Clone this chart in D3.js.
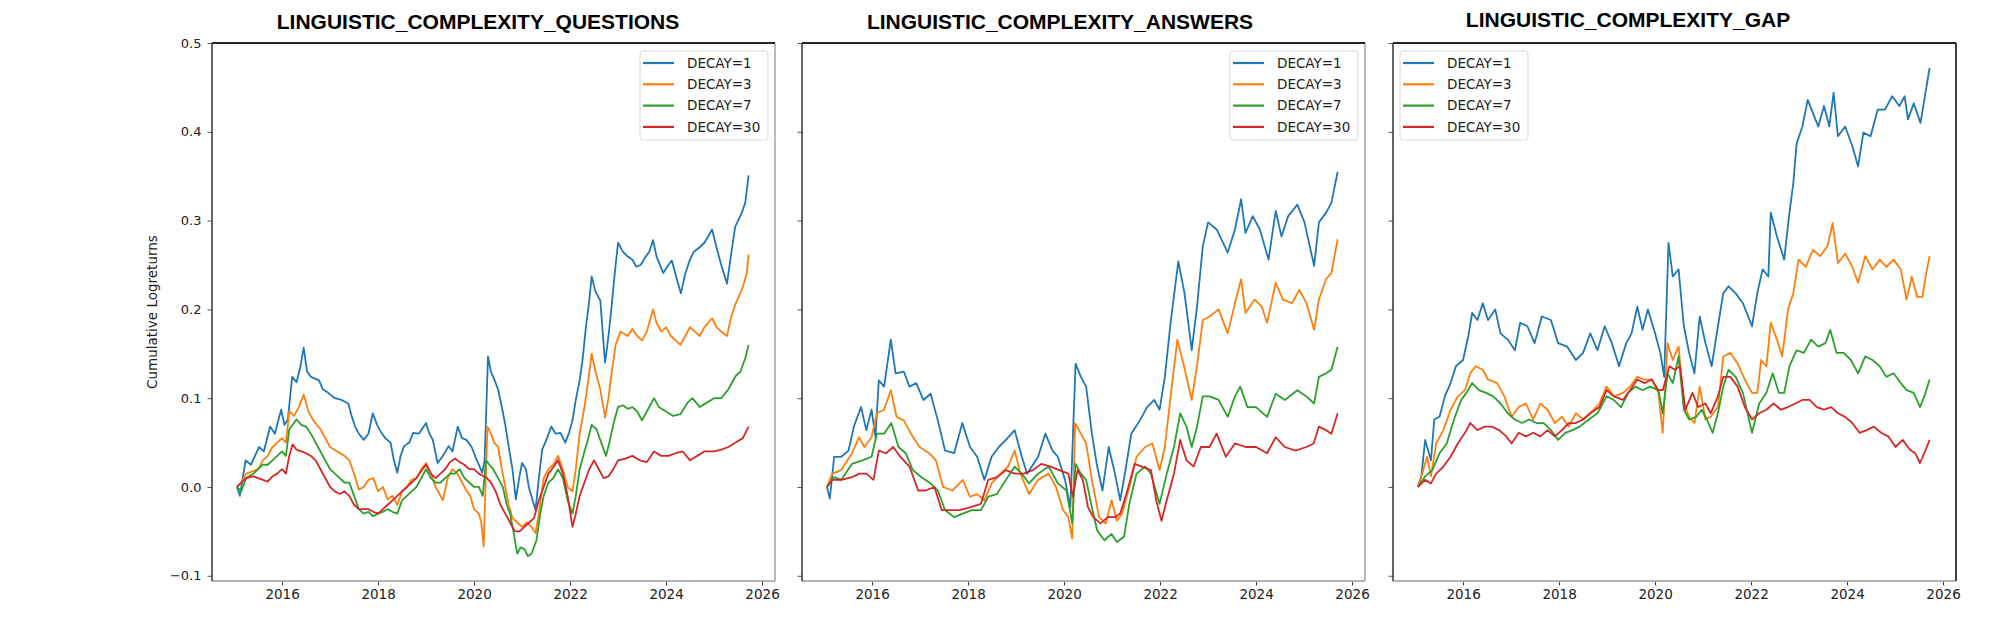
<!DOCTYPE html>
<html>
<head>
<meta charset="utf-8">
<script src="https://cdn.jsdelivr.net/npm/d3@7"></script>
<style>
  body { margin: 0; background: #fff; }
  text { font-family: "DejaVu Sans", sans-serif; }
</style>
</head>
<body>
<div id="chart"></div>
<script>
var width = 2016,
  height = 626;

var titles = [
  "LINGUISTIC_COMPLEXITY_QUESTIONS",
  "LINGUISTIC_COMPLEXITY_ANSWERS",
  "LINGUISTIC_COMPLEXITY_GAP"
];
var decayLabels = ["DECAY=1", "DECAY=3", "DECAY=7", "DECAY=30"];
var colors = ["#1f77b4", "#ff7f0e", "#2ca02c", "#d62728"];
var xTickYears = [2016, 2018, 2020, 2022, 2024, 2026];
var yTickValues = [-0.1, 0, 0.1, 0.2, 0.3, 0.4, 0.5];

// [year, cumulative logreturn]
var questionsDecay1 = [[2015.06,0],[2015.12,-0.01],[2015.24,0.03],[2015.35,0.025],[2015.52,0.045],[2015.62,0.04],[2015.75,0.068],[2015.85,0.06],[2015.98,0.087],[2016.05,0.07],[2016.12,0.076],[2016.21,0.124],[2016.3,0.118],[2016.38,0.135],[2016.45,0.157],[2016.52,0.13],[2016.6,0.124],[2016.77,0.12],[2016.85,0.11],[2016.96,0.106],[2017.1,0.1],[2017.24,0.098],[2017.38,0.094],[2017.45,0.08],[2017.52,0.068],[2017.6,0.06],[2017.7,0.053],[2017.8,0.06],[2017.89,0.083],[2017.98,0.07],[2018.07,0.061],[2018.15,0.055],[2018.26,0.05],[2018.33,0.03],[2018.4,0.016],[2018.47,0.035],[2018.54,0.046],[2018.65,0.05],[2018.73,0.061],[2018.85,0.06],[2019.0,0.072],[2019.07,0.06],[2019.14,0.053],[2019.24,0.027],[2019.35,0.035],[2019.47,0.046],[2019.55,0.04],[2019.66,0.068],[2019.75,0.055],[2019.84,0.053],[2019.95,0.045],[2020.03,0.034],[2020.17,0.016],[2020.22,0.03],[2020.29,0.147],[2020.35,0.13],[2020.4,0.124],[2020.5,0.11],[2020.59,0.087],[2020.65,0.07],[2020.72,0.046],[2020.8,0.02],[2020.87,-0.014],[2020.94,0.01],[2021.0,0.027],[2021.08,0.02],[2021.14,0.0],[2021.22,-0.015],[2021.28,-0.026],[2021.35,0.01],[2021.42,0.042],[2021.52,0.055],[2021.61,0.068],[2021.7,0.06],[2021.8,0.061],[2021.9,0.05],[2021.98,0.061],[2022.05,0.075],[2022.12,0.098],[2022.2,0.12],[2022.26,0.143],[2022.33,0.18],[2022.4,0.21],[2022.45,0.237],[2022.53,0.22],[2022.63,0.21],[2022.7,0.16],[2022.73,0.14],[2022.8,0.17],[2022.86,0.2],[2022.93,0.24],[2023.0,0.275],[2023.1,0.265],[2023.19,0.26],[2023.3,0.256],[2023.38,0.248],[2023.47,0.25],[2023.56,0.258],[2023.65,0.265],[2023.73,0.278],[2023.8,0.26],[2023.94,0.241],[2024.05,0.25],[2024.12,0.255],[2024.22,0.235],[2024.31,0.218],[2024.4,0.24],[2024.49,0.255],[2024.58,0.265],[2024.7,0.27],[2024.8,0.275],[2024.96,0.29],[2025.05,0.27],[2025.15,0.25],[2025.27,0.229],[2025.35,0.26],[2025.44,0.293],[2025.5,0.3],[2025.58,0.309],[2025.65,0.32],[2025.72,0.351]];
var questionsDecay3 = [[2015.06,0],[2015.15,0.005],[2015.25,0.015],[2015.4,0.018],[2015.5,0.02],[2015.6,0.03],[2015.7,0.035],[2015.8,0.045],[2015.9,0.05],[2016.0,0.055],[2016.08,0.05],[2016.15,0.085],[2016.25,0.08],[2016.35,0.09],[2016.45,0.104],[2016.55,0.085],[2016.65,0.075],[2016.8,0.065],[2016.9,0.055],[2017.0,0.045],[2017.15,0.04],[2017.3,0.035],[2017.4,0.03],[2017.5,0.015],[2017.6,-0.003],[2017.7,0.0],[2017.8,0.008],[2017.9,0.01],[2018.0,-0.005],[2018.1,0.0],[2018.2,-0.014],[2018.3,-0.01],[2018.4,-0.02],[2018.5,-0.005],[2018.6,0.0],[2018.7,0.008],[2018.8,0.01],[2018.9,0.02],[2019.0,0.027],[2019.1,0.015],[2019.2,0.0],[2019.3,-0.01],[2019.35,-0.015],[2019.45,0.01],[2019.55,0.02],[2019.65,0.015],[2019.75,0.005],[2019.85,-0.005],[2019.92,-0.01],[2020.0,-0.025],[2020.1,-0.03],[2020.15,-0.04],[2020.2,-0.067],[2020.25,0.02],[2020.28,0.068],[2020.35,0.06],[2020.42,0.05],[2020.5,0.045],[2020.58,0.02],[2020.65,0.0],[2020.72,-0.02],[2020.8,-0.035],[2020.9,-0.04],[2021.0,-0.045],[2021.1,-0.04],[2021.2,-0.045],[2021.28,-0.052],[2021.35,-0.03],[2021.45,0.01],[2021.55,0.02],[2021.65,0.025],[2021.75,0.035],[2021.85,0.02],[2021.95,0.0],[2022.05,-0.005],[2022.12,0.02],[2022.2,0.06],[2022.3,0.09],[2022.38,0.12],[2022.45,0.15],[2022.53,0.13],[2022.63,0.11],[2022.73,0.078],[2022.8,0.1],[2022.87,0.13],[2022.95,0.16],[2023.05,0.175],[2023.2,0.17],[2023.3,0.178],[2023.4,0.17],[2023.5,0.165],[2023.6,0.175],[2023.73,0.2],[2023.8,0.185],[2023.9,0.175],[2024.0,0.18],[2024.1,0.17],[2024.2,0.165],[2024.3,0.16],[2024.4,0.17],[2024.5,0.18],[2024.6,0.175],[2024.7,0.17],[2024.8,0.18],[2024.96,0.19],[2025.05,0.18],[2025.15,0.175],[2025.27,0.17],[2025.35,0.19],[2025.44,0.205],[2025.52,0.215],[2025.6,0.225],[2025.68,0.24],[2025.72,0.262]];
var questionsDecay7 = [[2015.06,0],[2015.15,-0.005],[2015.25,0.01],[2015.4,0.015],[2015.5,0.02],[2015.6,0.025],[2015.7,0.025],[2015.8,0.03],[2015.9,0.035],[2016.0,0.04],[2016.08,0.035],[2016.15,0.065],[2016.22,0.07],[2016.3,0.076],[2016.4,0.07],[2016.5,0.068],[2016.6,0.06],[2016.7,0.05],[2016.8,0.04],[2016.9,0.03],[2017.0,0.02],[2017.1,0.015],[2017.2,0.01],[2017.3,0.005],[2017.4,0.005],[2017.5,-0.01],[2017.6,-0.025],[2017.7,-0.03],[2017.8,-0.028],[2017.9,-0.033],[2018.0,-0.03],[2018.1,-0.028],[2018.2,-0.025],[2018.3,-0.028],[2018.4,-0.03],[2018.5,-0.015],[2018.6,-0.01],[2018.7,-0.005],[2018.8,0.0],[2018.9,0.01],[2019.0,0.02],[2019.1,0.01],[2019.2,0.005],[2019.3,0.005],[2019.4,0.01],[2019.5,0.015],[2019.6,0.015],[2019.7,0.02],[2019.8,0.01],[2019.9,0.005],[2020.0,0.0],[2020.1,0.0],[2020.18,-0.01],[2020.25,0.03],[2020.32,0.025],[2020.4,0.02],[2020.5,0.01],[2020.6,0.0],[2020.68,-0.02],[2020.75,-0.03],[2020.82,-0.05],[2020.9,-0.075],[2020.97,-0.068],[2021.05,-0.07],[2021.12,-0.078],[2021.2,-0.075],[2021.3,-0.06],[2021.38,-0.03],[2021.45,-0.01],[2021.55,0.005],[2021.65,0.01],[2021.75,0.02],[2021.85,0.01],[2021.95,-0.015],[2022.05,-0.03],[2022.12,-0.01],[2022.2,0.02],[2022.3,0.04],[2022.38,0.055],[2022.45,0.07],[2022.55,0.065],[2022.65,0.05],[2022.75,0.035],[2022.82,0.05],[2022.9,0.07],[2023.0,0.09],[2023.1,0.092],[2023.2,0.088],[2023.3,0.09],[2023.4,0.085],[2023.5,0.075],[2023.6,0.085],[2023.75,0.1],[2023.85,0.09],[2024.0,0.085],[2024.15,0.08],[2024.3,0.082],[2024.45,0.095],[2024.55,0.1],[2024.7,0.09],[2024.85,0.095],[2025.0,0.1],[2025.15,0.1],[2025.3,0.11],[2025.45,0.125],[2025.55,0.13],[2025.65,0.145],[2025.72,0.16]];
var questionsDecay30 = [[2015.06,0],[2015.15,0.005],[2015.25,0.01],[2015.4,0.012],[2015.5,0.01],[2015.6,0.008],[2015.7,0.006],[2015.8,0.012],[2015.9,0.015],[2016.0,0.02],[2016.08,0.015],[2016.15,0.035],[2016.22,0.048],[2016.3,0.042],[2016.4,0.04],[2016.5,0.038],[2016.6,0.035],[2016.7,0.03],[2016.8,0.02],[2016.9,0.01],[2017.0,0.0],[2017.1,-0.005],[2017.2,-0.008],[2017.3,-0.005],[2017.4,-0.01],[2017.5,-0.02],[2017.6,-0.025],[2017.7,-0.025],[2017.8,-0.025],[2017.9,-0.028],[2018.0,-0.03],[2018.1,-0.025],[2018.2,-0.02],[2018.3,-0.015],[2018.4,-0.01],[2018.5,-0.005],[2018.6,0.0],[2018.7,0.005],[2018.8,0.01],[2018.9,0.018],[2019.0,0.025],[2019.1,0.015],[2019.2,0.01],[2019.3,0.015],[2019.4,0.02],[2019.5,0.028],[2019.6,0.032],[2019.7,0.028],[2019.8,0.025],[2019.9,0.02],[2020.0,0.02],[2020.1,0.015],[2020.2,0.012],[2020.27,0.01],[2020.35,0.005],[2020.45,-0.005],[2020.55,-0.02],[2020.65,-0.03],[2020.75,-0.04],[2020.85,-0.05],[2020.95,-0.05],[2021.05,-0.045],[2021.15,-0.04],[2021.25,-0.035],[2021.35,-0.015],[2021.45,0.0],[2021.55,0.015],[2021.65,0.022],[2021.75,0.03],[2021.85,0.015],[2021.95,-0.01],[2022.05,-0.045],[2022.12,-0.03],[2022.2,-0.01],[2022.3,0.005],[2022.4,0.02],[2022.5,0.03],[2022.6,0.02],[2022.7,0.01],[2022.8,0.012],[2022.9,0.02],[2023.0,0.03],[2023.15,0.032],[2023.3,0.035],[2023.45,0.03],[2023.6,0.028],[2023.75,0.04],[2023.9,0.035],[2024.05,0.035],[2024.2,0.038],[2024.35,0.04],[2024.5,0.03],[2024.65,0.035],[2024.8,0.04],[2025.0,0.04],[2025.15,0.042],[2025.3,0.045],[2025.45,0.05],[2025.6,0.055],[2025.72,0.068]];

var answersDecay1 = [[2015.06,0],[2015.12,-0.013],[2015.21,0.034],[2015.36,0.034],[2015.51,0.041],[2015.62,0.068],[2015.77,0.09],[2015.88,0.064],[2015.99,0.087],[2016.07,0.056],[2016.14,0.12],[2016.25,0.113],[2016.39,0.166],[2016.49,0.128],[2016.66,0.13],[2016.78,0.113],[2016.92,0.117],[2017.07,0.098],[2017.22,0.105],[2017.37,0.075],[2017.52,0.041],[2017.71,0.038],[2017.88,0.072],[2018.04,0.045],[2018.19,0.034],[2018.34,0.008],[2018.49,0.034],[2018.64,0.045],[2018.79,0.053],[2018.97,0.064],[2019.12,0.034],[2019.23,0.015],[2019.46,0.034],[2019.61,0.06],[2019.76,0.041],[2019.87,0.034],[2020.02,0.008],[2020.13,-0.023],[2020.24,0.139],[2020.35,0.124],[2020.46,0.113],[2020.58,0.06],[2020.69,0.023],[2020.8,-0.004],[2020.93,0.045],[2021.06,0.015],[2021.17,-0.015],[2021.28,0.019],[2021.4,0.06],[2021.58,0.075],[2021.73,0.09],[2021.88,0.098],[2021.99,0.087],[2022.1,0.124],[2022.22,0.185],[2022.38,0.254],[2022.51,0.218],[2022.66,0.154],[2022.77,0.203],[2022.89,0.271],[2023.0,0.298],[2023.18,0.29],[2023.41,0.264],[2023.56,0.29],[2023.69,0.324],[2023.78,0.286],[2023.93,0.305],[2024.08,0.29],[2024.26,0.256],[2024.41,0.311],[2024.53,0.282],[2024.67,0.305],[2024.86,0.318],[2025.01,0.298],[2025.12,0.271],[2025.21,0.249],[2025.31,0.298],[2025.46,0.309],[2025.57,0.32],[2025.7,0.355]];
var answersDecay3 = [[2015.06,0],[2015.17,0.015],[2015.36,0.019],[2015.58,0.038],[2015.73,0.056],[2015.84,0.045],[2015.99,0.056],[2016.1,0.083],[2016.25,0.087],[2016.39,0.109],[2016.51,0.079],[2016.66,0.075],[2016.81,0.06],[2016.99,0.045],[2017.19,0.038],[2017.33,0.03],[2017.48,0.0],[2017.67,-0.004],[2017.89,0.008],[2018.04,-0.011],[2018.19,-0.008],[2018.34,-0.015],[2018.49,0.004],[2018.68,0.015],[2018.83,0.023],[2018.97,0.041],[2019.09,0.015],[2019.27,-0.008],[2019.46,0.008],[2019.68,0.015],[2019.83,0.0],[2019.98,-0.026],[2020.09,-0.034],[2020.17,-0.058],[2020.23,0.072],[2020.35,0.06],[2020.46,0.049],[2020.58,0.008],[2020.73,-0.034],[2020.87,-0.041],[2020.99,-0.015],[2021.1,-0.038],[2021.21,-0.03],[2021.36,0.0],[2021.51,0.034],[2021.69,0.045],[2021.84,0.049],[2021.99,0.019],[2022.1,0.045],[2022.22,0.102],[2022.36,0.166],[2022.5,0.136],[2022.66,0.098],[2022.77,0.136],[2022.89,0.188],[2023.03,0.192],[2023.22,0.2],[2023.41,0.173],[2023.56,0.207],[2023.69,0.234],[2023.78,0.196],[2023.97,0.211],[2024.12,0.203],[2024.23,0.185],[2024.41,0.23],[2024.56,0.211],[2024.75,0.207],[2024.9,0.222],[2025.05,0.207],[2025.21,0.177],[2025.31,0.211],[2025.46,0.234],[2025.57,0.241],[2025.7,0.279]];
var answersDecay7 = [[2015.06,0],[2015.21,0.011],[2015.36,0.008],[2015.58,0.026],[2015.8,0.03],[2015.99,0.034],[2016.1,0.06],[2016.25,0.06],[2016.4,0.072],[2016.55,0.045],[2016.7,0.038],[2016.85,0.019],[2017.03,0.011],[2017.22,0.004],[2017.37,-0.004],[2017.52,-0.026],[2017.71,-0.034],[2017.89,-0.03],[2018.08,-0.026],[2018.27,-0.026],[2018.42,-0.011],[2018.6,-0.008],[2018.79,0.008],[2018.97,0.023],[2019.12,0.015],[2019.27,0.004],[2019.46,0.015],[2019.68,0.023],[2019.87,0.004],[2020.05,-0.004],[2020.17,-0.041],[2020.24,0.026],[2020.35,0.015],[2020.46,0.008],[2020.58,-0.023],[2020.69,-0.049],[2020.84,-0.06],[2020.99,-0.053],[2021.1,-0.062],[2021.25,-0.056],[2021.36,-0.019],[2021.51,0.015],[2021.69,0.023],[2021.81,0.015],[2021.99,-0.019],[2022.14,0.015],[2022.29,0.045],[2022.42,0.083],[2022.55,0.068],[2022.66,0.045],[2022.77,0.068],[2022.89,0.102],[2023.03,0.102],[2023.22,0.098],[2023.41,0.079],[2023.56,0.102],[2023.67,0.113],[2023.82,0.09],[2024.0,0.09],[2024.23,0.079],[2024.41,0.105],[2024.6,0.098],[2024.86,0.109],[2025.05,0.102],[2025.21,0.094],[2025.31,0.124],[2025.46,0.128],[2025.57,0.132],[2025.7,0.158]];
var answersDecay30 = [[2015.06,0],[2015.17,0.008],[2015.36,0.008],[2015.58,0.011],[2015.73,0.015],[2015.88,0.015],[2016.03,0.008],[2016.14,0.041],[2016.29,0.038],[2016.44,0.045],[2016.59,0.034],[2016.78,0.023],[2016.96,-0.004],[2017.11,-0.004],[2017.3,0.0],[2017.45,-0.026],[2017.6,-0.026],[2017.82,-0.026],[2018.04,-0.023],[2018.27,-0.019],[2018.42,0.008],[2018.6,0.011],[2018.79,0.019],[2018.97,0.015],[2019.16,0.015],[2019.35,0.019],[2019.53,0.026],[2019.72,0.023],[2019.9,0.019],[2020.09,0.015],[2020.18,-0.011],[2020.28,0.019],[2020.39,0.008],[2020.5,-0.023],[2020.61,-0.034],[2020.76,-0.041],[2020.91,-0.034],[2021.06,-0.034],[2021.17,-0.03],[2021.32,-0.004],[2021.47,0.026],[2021.62,0.023],[2021.81,0.019],[2021.92,-0.015],[2022.03,-0.038],[2022.14,-0.015],[2022.29,0.015],[2022.42,0.053],[2022.55,0.03],[2022.7,0.023],[2022.85,0.045],[2023.03,0.045],[2023.18,0.06],[2023.37,0.034],[2023.56,0.049],[2023.78,0.045],[2024.0,0.045],[2024.23,0.038],[2024.41,0.056],[2024.6,0.045],[2024.82,0.041],[2025.05,0.045],[2025.2,0.049],[2025.31,0.068],[2025.46,0.064],[2025.57,0.06],[2025.7,0.083]];

var gapDecay1 = [[2015.06,0],[2015.13,0.012],[2015.21,0.053],[2015.33,0.03],[2015.4,0.076],[2015.51,0.079],[2015.62,0.102],[2015.74,0.117],[2015.85,0.136],[2016.0,0.143],[2016.11,0.17],[2016.19,0.196],[2016.3,0.188],[2016.41,0.207],[2016.52,0.188],[2016.67,0.2],[2016.78,0.173],[2016.93,0.166],[2017.08,0.154],[2017.19,0.185],[2017.34,0.181],[2017.49,0.162],[2017.64,0.192],[2017.83,0.188],[2017.98,0.162],[2018.17,0.158],[2018.35,0.143],[2018.5,0.151],[2018.65,0.173],[2018.8,0.154],[2018.95,0.181],[2019.1,0.162],[2019.25,0.136],[2019.4,0.162],[2019.51,0.173],[2019.63,0.203],[2019.74,0.177],[2019.85,0.2],[2020.0,0.173],[2020.11,0.151],[2020.19,0.124],[2020.28,0.275],[2020.37,0.237],[2020.49,0.245],[2020.6,0.181],[2020.71,0.151],[2020.82,0.128],[2020.93,0.192],[2021.05,0.162],[2021.18,0.136],[2021.31,0.181],[2021.42,0.218],[2021.53,0.226],[2021.68,0.218],[2021.83,0.207],[2022.02,0.181],[2022.13,0.218],[2022.24,0.245],[2022.36,0.237],[2022.41,0.309],[2022.54,0.282],[2022.69,0.256],[2022.8,0.309],[2022.88,0.342],[2022.95,0.387],[2023.07,0.406],[2023.18,0.436],[2023.29,0.421],[2023.4,0.406],[2023.52,0.429],[2023.63,0.406],[2023.72,0.444],[2023.81,0.395],[2023.96,0.406],[2024.11,0.384],[2024.23,0.361],[2024.34,0.399],[2024.49,0.395],[2024.64,0.425],[2024.79,0.425],[2024.94,0.44],[2025.09,0.429],[2025.2,0.44],[2025.27,0.414],[2025.39,0.432],[2025.53,0.41],[2025.61,0.436],[2025.72,0.472]];
var gapDecay3 = [[2015.06,0],[2015.17,0.019],[2015.25,0.034],[2015.33,0.012],[2015.44,0.049],[2015.59,0.064],[2015.74,0.087],[2015.89,0.102],[2016.04,0.109],[2016.15,0.128],[2016.26,0.136],[2016.41,0.132],[2016.52,0.121],[2016.71,0.117],[2016.86,0.102],[2017.01,0.079],[2017.16,0.09],[2017.31,0.094],[2017.46,0.076],[2017.61,0.094],[2017.76,0.087],[2017.91,0.072],[2018.06,0.079],[2018.2,0.068],[2018.35,0.083],[2018.5,0.076],[2018.65,0.083],[2018.84,0.094],[2018.99,0.113],[2019.14,0.102],[2019.33,0.106],[2019.48,0.113],[2019.63,0.124],[2019.78,0.121],[2019.93,0.121],[2020.07,0.106],[2020.16,0.061],[2020.26,0.162],[2020.37,0.143],[2020.49,0.158],[2020.6,0.094],[2020.71,0.079],[2020.82,0.072],[2020.93,0.113],[2021.05,0.076],[2021.16,0.079],[2021.31,0.09],[2021.42,0.147],[2021.57,0.151],[2021.72,0.139],[2021.87,0.121],[2022.02,0.106],[2022.13,0.106],[2022.21,0.143],[2022.32,0.136],[2022.41,0.185],[2022.54,0.166],[2022.65,0.147],[2022.77,0.2],[2022.88,0.218],[2022.99,0.256],[2023.14,0.248],[2023.29,0.267],[2023.44,0.26],[2023.59,0.271],[2023.7,0.297],[2023.81,0.252],[2023.96,0.263],[2024.11,0.248],[2024.23,0.23],[2024.38,0.26],[2024.53,0.245],[2024.68,0.256],[2024.82,0.248],[2024.97,0.256],[2025.12,0.245],[2025.24,0.211],[2025.35,0.237],[2025.46,0.214],[2025.57,0.214],[2025.65,0.241],[2025.72,0.26]];
var gapDecay7 = [[2015.06,0],[2015.21,0.012],[2015.36,0.019],[2015.51,0.038],[2015.66,0.049],[2015.81,0.076],[2015.96,0.098],[2016.07,0.106],[2016.19,0.117],[2016.33,0.109],[2016.48,0.106],[2016.63,0.102],[2016.78,0.094],[2016.93,0.083],[2017.08,0.076],[2017.23,0.072],[2017.38,0.076],[2017.53,0.072],[2017.68,0.072],[2017.83,0.064],[2017.98,0.053],[2018.13,0.061],[2018.28,0.064],[2018.43,0.068],[2018.62,0.076],[2018.8,0.083],[2018.99,0.102],[2019.14,0.098],[2019.29,0.09],[2019.44,0.106],[2019.59,0.113],[2019.74,0.109],[2019.89,0.113],[2020.07,0.109],[2020.16,0.083],[2020.26,0.128],[2020.37,0.117],[2020.49,0.147],[2020.6,0.087],[2020.71,0.076],[2020.86,0.079],[2020.97,0.087],[2021.08,0.076],[2021.2,0.061],[2021.31,0.083],[2021.42,0.113],[2021.53,0.132],[2021.68,0.124],[2021.83,0.106],[2022.02,0.061],[2022.17,0.094],[2022.32,0.106],[2022.45,0.128],[2022.58,0.106],[2022.69,0.106],[2022.8,0.136],[2022.95,0.154],[2023.1,0.151],[2023.25,0.166],[2023.4,0.158],[2023.55,0.162],[2023.65,0.177],[2023.78,0.151],[2023.93,0.151],[2024.08,0.143],[2024.23,0.128],[2024.38,0.147],[2024.53,0.143],[2024.68,0.136],[2024.82,0.124],[2024.97,0.128],[2025.12,0.117],[2025.24,0.109],[2025.39,0.106],[2025.52,0.09],[2025.61,0.102],[2025.72,0.121]];
var gapDecay30 = [[2015.06,0],[2015.21,0.008],[2015.33,0.004],[2015.44,0.015],[2015.59,0.023],[2015.74,0.034],[2015.89,0.049],[2016.04,0.061],[2016.15,0.072],[2016.3,0.064],[2016.45,0.068],[2016.6,0.068],[2016.75,0.064],[2016.9,0.057],[2017.01,0.049],[2017.16,0.061],[2017.31,0.057],[2017.46,0.061],[2017.61,0.057],[2017.76,0.064],[2017.91,0.057],[2018.06,0.064],[2018.2,0.072],[2018.35,0.072],[2018.5,0.076],[2018.65,0.083],[2018.84,0.09],[2018.99,0.109],[2019.14,0.102],[2019.33,0.098],[2019.48,0.109],[2019.63,0.121],[2019.78,0.117],[2019.93,0.121],[2020.07,0.109],[2020.16,0.109],[2020.3,0.136],[2020.41,0.132],[2020.52,0.136],[2020.63,0.087],[2020.78,0.106],[2020.9,0.09],[2021.05,0.094],[2021.16,0.083],[2021.31,0.102],[2021.42,0.124],[2021.57,0.124],[2021.72,0.113],[2021.87,0.09],[2022.02,0.076],[2022.17,0.083],[2022.32,0.087],[2022.47,0.094],[2022.62,0.087],[2022.77,0.09],[2022.92,0.094],[2023.07,0.098],[2023.22,0.098],[2023.37,0.09],[2023.52,0.087],[2023.67,0.09],[2023.81,0.083],[2023.96,0.079],[2024.11,0.072],[2024.26,0.061],[2024.41,0.064],[2024.56,0.068],[2024.71,0.061],[2024.86,0.057],[2025.01,0.045],[2025.16,0.053],[2025.31,0.042],[2025.42,0.038],[2025.52,0.027],[2025.61,0.038],[2025.72,0.053]];

var panels = [
  { title: titles[0], series: [questionsDecay1, questionsDecay3, questionsDecay7, questionsDecay30], left: 212, titleX: 478, titleY: 29, legendLeft: false, yLabels: true, rightSpine: "#a8a8a8" },
  { title: titles[1], series: [answersDecay1, answersDecay3, answersDecay7, answersDecay30], left: 802, titleX: 1060, titleY: 29, legendLeft: false, yLabels: false, rightSpine: "#a8a8a8" },
  { title: titles[2], series: [gapDecay1, gapDecay3, gapDecay7, gapDecay30], left: 1393, titleX: 1628, titleY: 27, legendLeft: true, yLabels: false, rightSpine: "#111" }
];

var panelWidth = 563,
  plotTop = 43,
  plotBottom = 581;

var svg = d3
  .select("#chart")
  .append("svg")
  .attr("width", width)
  .attr("height", height)
  .style("display", "block");

var y = d3.scaleLinear().domain([-0.1059, 0.5]).range([plotBottom, plotTop]);

panels.forEach(function(p, i) {
  var x = d3
    .scaleLinear()
    .domain([2014.54, 2026.27])
    .range([p.left, p.left + panelWidth]);
  var g = svg.append("g").attr("class", "panel-" + i);

  var line = d3
    .line()
    .x(d => x(d[0]))
    .y(d => y(d[1]));

  g.selectAll("path.series")
    .data(p.series)
    .enter()
    .append("path")
    .attr("class", "series")
    .attr("d", line)
    .style("fill", "none")
    .style("stroke", (d, j) => colors[j])
    .style("stroke-width", 1.8)
    .style("stroke-linejoin", "round");

  // x axis
  var xAxis = d3
    .axisBottom(x)
    .tickValues(xTickYears)
    .tickFormat(d3.format("d"))
    .tickSize(4.5)
    .tickPadding(4);
  var gx = g.append("g").attr("transform", "translate(0," + plotBottom + ")").call(xAxis);
  gx.select(".domain").remove();
  gx.selectAll("line").style("stroke", "#333");
  gx.selectAll("text")
    .style("font-size", "13.5px")
    .style("font-family", "'DejaVu Sans'")
    .style("fill", "#222");

  // y axis
  var yAxis = d3
    .axisLeft(y)
    .tickValues(yTickValues)
    .tickFormat(p.yLabels ? d3.format(".1f") : "")
    .tickSize(4.5)
    .tickPadding(6);
  var gy = g.append("g").attr("transform", "translate(" + p.left + ",0)").call(yAxis);
  gy.select(".domain").remove();
  gy.selectAll("line").style("stroke", "#555");
  gy.selectAll("text")
    .style("font-size", "13px")
    .style("font-family", "'DejaVu Sans'")
    .style("fill", "#222");

  // spines
  var x0 = p.left,
    x1 = p.left + panelWidth;
  g.append("line").attr("x1", x0).attr("x2", x1).attr("y1", plotBottom).attr("y2", plotBottom)
    .style("stroke", "#b4b4b4").style("stroke-width", 2);
  g.append("line").attr("x1", x1).attr("x2", x1).attr("y1", plotTop).attr("y2", plotBottom)
    .style("stroke", p.rightSpine).style("stroke-width", 1.6);
  g.append("line").attr("x1", x0).attr("x2", x1).attr("y1", plotTop).attr("y2", plotTop)
    .style("stroke", "#262626").style("stroke-width", 1.8);
  g.append("line").attr("x1", x0).attr("x2", x0).attr("y1", plotTop).attr("y2", plotBottom)
    .style("stroke", "#333").style("stroke-width", 1.5);

  // title
  svg.append("text")
    .attr("x", p.titleX)
    .attr("y", p.titleY)
    .attr("text-anchor", "middle")
    .style("font-family", "'Liberation Sans', Arial, sans-serif")
    .style("font-weight", "bold")
    .style("font-size", "21px")
    .style("fill", "#000")
    .text(p.title);

  // legend
  var legW = 128,
    legH = 89;
  var lx = p.legendLeft ? x0 + 7 : x1 - 7 - legW;
  var ly = 51;
  var leg = g.append("g").attr("transform", "translate(" + lx + "," + ly + ")");
  leg.append("rect")
    .attr("width", legW)
    .attr("height", legH)
    .attr("rx", 3)
    .style("fill", "rgba(255,255,255,0.8)")
    .style("stroke", "#d8d8d8")
    .style("stroke-width", 1);
  var items = leg
    .selectAll("g.item")
    .data(decayLabels)
    .enter()
    .append("g")
    .attr("class", "item")
    .attr("transform", (d, j) => "translate(0," + (12 + j * 21.3) + ")");
  items.append("line")
    .attr("x1", 3)
    .attr("x2", 34)
    .style("stroke", (d, j) => colors[j])
    .style("stroke-width", 2.2);
  items.append("text")
    .attr("x", 47)
    .attr("dy", "0.36em")
    .style("font-size", "13.5px")
    .style("fill", "#222")
    .text(d => d);
});

// shared y label
svg.append("text")
  .attr("transform", "translate(152," + (plotTop + plotBottom) / 2 + ") rotate(-90)")
  .attr("text-anchor", "middle")
  .attr("dy", "0.35em")
  .style("font-size", "13.5px")
  .style("fill", "#222")
  .text("Cumulative Logreturns");
</script>
</body>
</html>
